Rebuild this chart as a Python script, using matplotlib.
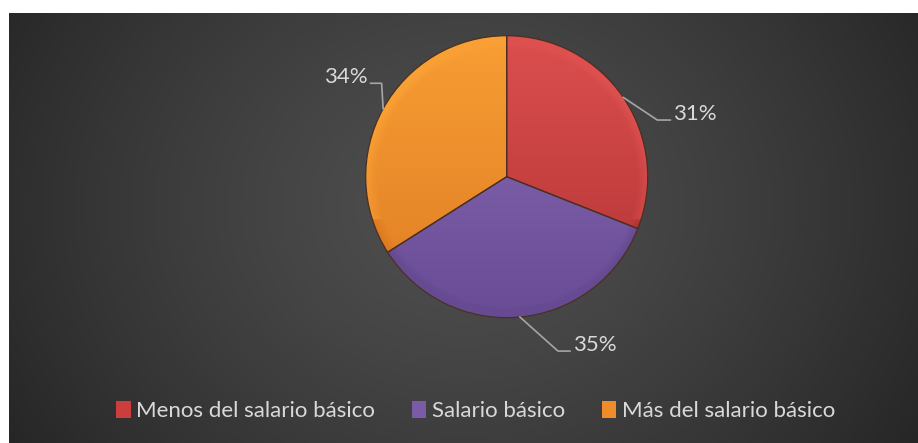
import numpy as np
import matplotlib.pyplot as plt
from matplotlib.patches import Wedge

# DATOS
categorias = ["Menos del salario básico", "Salario básico", "Más del salario básico"]
porcentajes = [31, 35, 34]
etiquetas = ["31%", "35%", "34%"]

# colores (base, claro, oscuro)
colores = ["#cc3e3e", "#7b5ba8", "#f08d2b"]
claros = ["#de5050", "#8d6cbb", "#f9a035"]
oscuros = ["#b03232", "#664a92", "#dd7a22"]

plt.rcParams['font.family'] = ['Lato', 'DejaVu Sans']
W, H = 918, 443
fig = plt.figure(figsize=(W / 100, H / 100), dpi=100)
fig.patch.set_facecolor("white")

# FONDO con gradiente radial
bg = fig.add_axes([9 / W, 0, 1 - 9 / W, 1 - 13 / H])
yy, xx = np.mgrid[0:1:300j, 0:1:600j]
d = np.sqrt(((xx - 0.5) * 1.6) ** 2 + ((yy - 0.45) * 0.9) ** 2)
d = np.clip(d / d.max(), 0, 1)
c0, c1 = np.array([0.31, 0.31, 0.31]), np.array([0.15, 0.15, 0.15])
img = c0 + (c1 - c0) * d[..., None] ** 1.3
bg.imshow(img, extent=[0, 1, 0, 1], aspect="auto", origin="upper")
bg.axis("off")

# PASTEL en coordenadas de pixeles
ax = fig.add_axes([0, 0, 1, 1])
ax.patch.set_alpha(0)
cx, cy, R = 506.7, H - 176.7, 141
wedges, _ = ax.pie(porcentajes, colors=colores, startangle=90, counterclock=False,
                   center=(cx, cy), radius=R, wedgeprops=dict(linewidth=0))
ax.set_xlim(0, W)
ax.set_ylim(0, H)
ax.set_aspect("equal")
ax.axis("off")

# sombreado tipo bisel
gy, gx = np.mgrid[cy + R:cy - R:400j, cx - R:cx + R:400j]
rr = np.sqrt((gx - cx) ** 2 + (gy - cy) ** 2) / R
t = 0.5 + 0.45 * (gy - cy) / R
rim = np.clip((rr - 0.92) / 0.08, 0, 1)
t = np.clip(t + rim * 0.35 * np.sign(gy - cy + 0.3 * R), 0, 1)
for w, cl, co in zip(wedges, claros, oscuros):
    a = np.array(plt.matplotlib.colors.to_rgb(co))
    b = np.array(plt.matplotlib.colors.to_rgb(cl))
    sh = a + (b - a) * t[..., None]
    im = ax.imshow(sh, extent=[cx - R, cx + R, cy - R, cy + R], origin="upper", zorder=2)
    im.set_clip_path(w)
    ax.add_patch(Wedge((cx, cy), R, w.theta1, w.theta2, facecolor="none",
                       edgecolor="#4a3020", linewidth=0.9, zorder=3))

# ETIQUETAS con lineas guia
guias = [((34, -22.6), 13), ((38, -34), 12), ((-1.5, 25.5), -11)]
for w, lab, (codo, largo) in zip(wedges, etiquetas, guias):
    ang = np.deg2rad((w.theta1 + w.theta2) / 2)
    x0, y0 = cx + R * np.cos(ang), cy + R * np.sin(ang)
    x1, y1 = x0 + codo[0], y0 + codo[1]
    x2 = x1 + largo
    ax.plot([x0, x1, x2], [y0, y1, y1], color="#a6a6a6", lw=1.2, zorder=4)
    ha = "left" if largo > 0 else "right"
    ax.text(x2 + (3 if largo > 0 else -3), y1 + 6, lab, ha=ha, va="center",
            color="#d9d9d9", fontsize=16)

# LEYENDA
leg = fig.legend(wedges, categorias, loc="center", bbox_to_anchor=(0.518, 0.072), ncol=3,
                 frameon=False, fontsize=16, handlelength=0.65, handleheight=0.8,
                 handletextpad=0.25, columnspacing=1.65)
for txt in leg.get_texts():
    txt.set_color("#d9d9d9")

fig.savefig("out.png", dpi=100, facecolor=fig.get_facecolor())
